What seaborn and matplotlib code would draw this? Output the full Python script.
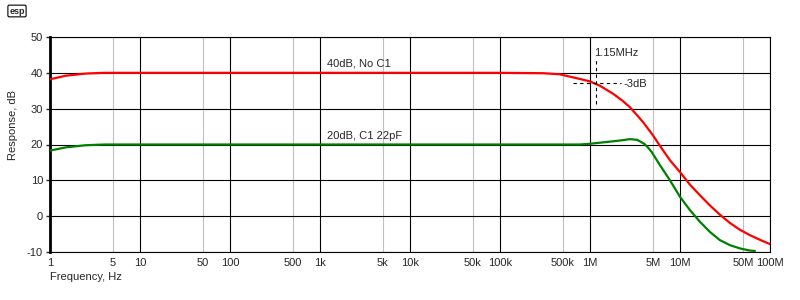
import numpy as np
import pandas as pd
import matplotlib
matplotlib.use("Agg")
import matplotlib.pyplot as plt
import seaborn as sns

# ---- data ----
red_freq = [1, 1.5, 2.5, 4, 10, 100, 1e3, 1e4, 1e5, 3e5, 4.6e5, 7.7e5, 1e6, 1.29e6, 1.82e6,
            2.3e6, 2.78e6, 3.3e6, 3.9e6, 5e6, 6e6, 7.74e6, 1e7, 1.29e7, 1.67e7, 2.15e7, 2.78e7,
            3.59e7, 4.64e7, 5.99e7, 7.74e7, 1e8]
red_db = [38.2, 39.2, 39.8, 40, 40, 40, 40, 40, 40, 39.9, 39.6, 38.3, 37.6, 36.4, 34.1,
          32.2, 30.4, 28.3, 26.2, 22.6, 19.6, 15.6, 12.3, 8.8, 5.8, 3.0, 0.4, -1.9, -3.8,
          -5.3, -6.6, -7.8]

green_freq = [1, 1.5, 2.5, 4, 10, 100, 1e3, 1e4, 1e5, 7.7e5, 1e6, 1.4e6, 1.82e6, 2.3e6,
              2.78e6, 3.35e6, 4e6, 4.4e6, 4.85e6, 6e6, 7.74e6, 1e7, 1.29e7, 1.67e7, 2.15e7,
              2.78e7, 3.59e7, 4.64e7, 5.99e7, 6.8e7]
green_db = [18.3, 19.2, 19.8, 20, 20, 20, 20, 20, 20, 20, 20.2, 20.6, 20.9, 21.2,
            21.5, 21.3, 20.2, 19.2, 17.9, 14.2, 10.0, 5.4, 1.7, -1.6, -4.4,
            -6.7, -8.1, -9.0, -9.6, -9.7]

series_names = ["40dB, No C1", "20dB, C1 22pF"]
series_colors = ["#ff0000", "#008000"]

x_ticks = [1, 5, 10, 50, 100, 500, 1e3, 5e3, 1e4, 5e4, 1e5, 5e5, 1e6, 5e6, 1e7, 5e7, 1e8]
x_labels = ["1", "5", "10", "50", "100", "500", "1k", "5k", "10k", "50k", "100k",
            "500k", "1M", "5M", "10M", "50M", "100M"]
y_ticks = [-10, 0, 10, 20, 30, 40, 50]

f3db = 1.18e6
level3db = 37.2

df = pd.concat([
    pd.DataFrame({"freq": red_freq, "db": red_db, "series": series_names[0]}),
    pd.DataFrame({"freq": green_freq, "db": green_db, "series": series_names[1]}),
])

sns.set_style("white")
plt.rcParams["font.family"] = ["Liberation Sans", "DejaVu Sans"]
plt.rcParams["font.size"] = 8
plt.rcParams["axes.unicode_minus"] = False

fig = plt.figure(figsize=(8, 3), dpi=100)
ax = fig.add_axes([50 / 800, 48 / 300, 720 / 800, 215 / 300])

# grid
ax.set_xscale("log")
ax.set_xlim(1, 1e8)
ax.set_ylim(-10, 50)
for d in range(0, 9):
    ax.axvline(10 ** d, color="black", lw=0.8, zorder=1)
    if d < 8:
        ax.axvline(5 * 10 ** d, color="#c0c0c0", lw=0.8, zorder=0.5)
for y in y_ticks:
    ax.axhline(y, color="black", lw=0.8, zorder=1)

sns.lineplot(data=df, x="freq", y="db", hue="series", palette=series_colors,
             linewidth=1.6, legend=False, ax=ax, zorder=3, estimator=None, sort=False)

ax.set_xticks(x_ticks)
ax.set_xticklabels(x_labels)
ax.xaxis.set_minor_locator(matplotlib.ticker.NullLocator())
ax.set_yticks(y_ticks)
ax.tick_params(axis="x", length=0, pad=4, labelsize=8)
ax.tick_params(axis="y", length=3, width=1, direction="out", left=True, pad=2, labelsize=8)
ax.set_xlabel("")
ax.set_ylabel("Response, dB", fontsize=8)
ax.yaxis.set_label_coords(-0.044, 0.59)

for s in ax.spines.values():
    s.set_color("black")
    s.set_linewidth(0.8)
ax.spines["left"].set_linewidth(2)

# annotations
ax.text(1.2e3, 42.6, series_names[0], fontsize=8, ha="left", va="center")
ax.text(1.2e3, 22.4, series_names[1], fontsize=8, ha="left", va="center")
ax.plot([f3db, f3db], [31.4, 44.2], ls=(0, (3, 3)), color="black", lw=0.8, zorder=4)
ax.plot([6.5e5, 2.2e6], [level3db, level3db], ls=(0, (3, 3)), color="black", lw=0.8, zorder=4)
ax.text(1.12e6, 45.6, "1.15MHz", fontsize=8, ha="left", va="center")
ax.text(2.35e6, 36.8, "-3dB", fontsize=8, ha="left", va="center")

fig.text(50 / 800, 1 - 277 / 300, "Frequency, Hz", fontsize=8, ha="left", va="center")
fig.text(17 / 800, 1 - 11 / 300, "esp", fontsize=6.5, ha="center", va="center", fontweight="bold",
         bbox=dict(boxstyle="round,pad=0.15", fc="white", ec="black", lw=0.8))

fig.savefig("out.png", dpi=100)
